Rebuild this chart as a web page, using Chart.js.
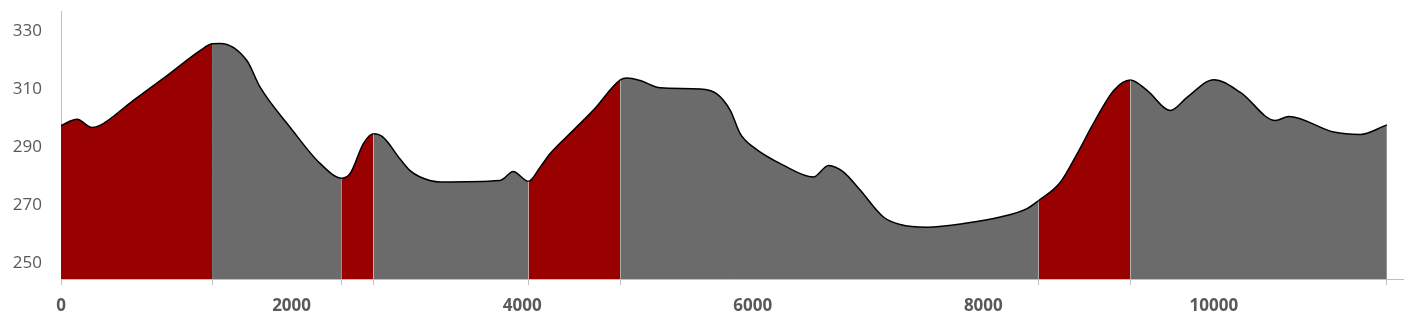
<!DOCTYPE html>
<html>
<head>
<meta charset="utf-8">
<script src="https://cdn.jsdelivr.net/npm/chart.js@4"></script>
<style>
  html, body { margin: 0; padding: 0; background: #fff; }
</style>
</head>
<body>
<canvas id="profile" width="1406" height="330"></canvas>
<script>
// distance (m) and elevation (m)
const distance = [0, 139, 269, 338, 625, 920, 1206, 1310, 1380, 1612, 1727, 1987, 2247, 2436,
    2508, 2623, 2710, 2795, 2941, 3028, 3115, 3289, 3809, 3838, 3922, 4055,
    4156, 4243, 4443, 4616, 4851, 4908, 5024, 5198, 5544, 5689, 5805, 5892, 6006,
    6268, 6525, 6658, 6788, 6933, 7133, 7280, 7511, 7858, 8148, 8379, 8480,
    8668, 8813, 8955, 9131, 9275, 9420, 9622, 9767, 9999, 10230, 10534, 10649,
    11040, 11271, 11500];
const elevation = [297.6, 299.7, 296.9, 297.6, 306.2, 314.8, 323.4, 325.8, 325.9, 320, 310.8, 297, 284.5, 279.4,
    281, 291.3, 294.7, 293.5, 286, 282, 279.8, 278.1, 278.6, 279.2, 281.7, 278.3,
    283.2, 287.9, 295.9, 302.8, 313.3, 314, 313.1, 310.6, 310.2, 308.5, 302.8, 294.7, 290.1,
    283.8, 279.8, 283.8, 281.5, 275.2, 266, 263.4, 262.5, 263.9, 266, 268.9, 271.7,
    278, 287.8, 298.3, 309.7, 313.3, 309.7, 302.8, 307.3, 313.4, 309, 299.3, 300.7,
    295.3, 294.5, 297.8];

// climbs drawn in red: start / end distance
const climbStart = [0, 2436, 4055, 8480];
const climbEnd = [1310, 2710, 4851, 9275];

const xLabels = [0, 2000, 4000, 6000, 8000, 10000];
const yLabels = [250, 270, 290, 310, 330];

const RED = '#990000';
const GREY = '#6b6b6b';
const AXIS = '#bfbfbf';
const TEXT = '#595959';

const boundaries = [...new Set([...climbStart, ...climbEnd, 11500])];

function isClimb(x) {
    return climbStart.some((s, i) => x >= s && x < climbEnd[i]);
}

const points = distance.map((d, i) => ({ x: d, y: elevation[i] }));

new Chart(document.getElementById('profile'), {
    type: 'line',
    data: {
        datasets: [{
            data: points,
            borderColor: '#000',
            borderWidth: 1.5,
            pointRadius: 0,
            cubicInterpolationMode: 'monotone',
            fill: 'start',
            backgroundColor: GREY,
            segment: {
                backgroundColor: ctx => isClimb(ctx.p0.parsed.x) ? RED : GREY
            }
        }]
    },
    options: {
        responsive: false,
        animation: false,
        layout: { padding: { top: 11, right: 3, left: 0, bottom: 0 } },
        plugins: { legend: { display: false }, tooltip: { enabled: false } },
        scales: {
            x: {
                type: 'linear',
                min: 0,
                max: 11640,
                afterBuildTicks: scale => {
                    const all = [...new Set([...xLabels, ...boundaries])].sort((a, b) => a - b);
                    scale.ticks = all.map(v => ({ value: v }));
                },
                afterFit: scale => {
                    scale.height = 51;
                    scale.paddingLeft = 0;
                    scale.paddingRight = 0;
                },
                ticks: {
                    autoSkip: false,
                    maxRotation: 0,
                    padding: 11,
                    color: TEXT,
                    font: { family: 'Open Sans', size: 17, weight: 'bold' },
                    callback: v => xLabels.includes(v) ? String(v) : ''
                },
                grid: {
                    drawOnChartArea: false,
                    tickLength: 6,
                    tickColor: ctx => boundaries.includes(ctx.tick.value) ? AXIS : 'rgba(0,0,0,0)'
                },
                border: { color: AXIS, width: 1 }
            },
            y: {
                min: 244.6,
                max: 337.1,
                afterBuildTicks: scale => {
                    scale.ticks = yLabels.map(v => ({ value: v }));
                },
                afterFit: scale => {
                    scale.width = 61;
                    scale.paddingTop = 0;
                    scale.paddingBottom = 0;
                },
                ticks: {
                    padding: 19,
                    color: TEXT,
                    font: { family: 'Open Sans', size: 17 }
                },
                grid: { display: false, drawTicks: false },
                border: { color: AXIS, width: 1 }
            }
        }
    }
});
</script>
</body>
</html>
